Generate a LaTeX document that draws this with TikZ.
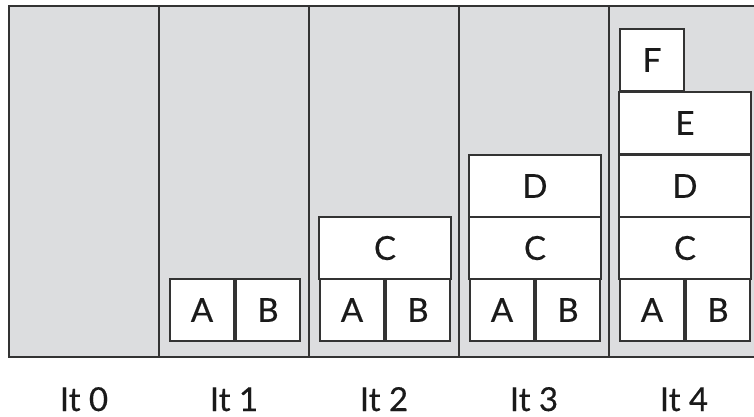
\documentclass[tikz,border=0pt]{standalone}
\usepackage{fontspec}
\setmainfont{Lato}
\definecolor{panelgray}{HTML}{DCDDDF}
\definecolor{linec}{HTML}{333333}
\definecolor{textc}{HTML}{1A1A1A}
\begin{document}
\begin{tikzpicture}[x=1pt,y=-1pt,
  frame/.style={draw=linec, line width=2pt},
  blk/.style={draw=linec, fill=white, line width=1.6pt, minimum width=64pt, minimum height=62pt, inner sep=0pt, font=\fontsize{33}{36}\selectfont\addfontfeatures{FakeBold=0.4}, text=textc},
  wide/.style={blk, minimum width=132pt},
  itlabel/.style={font=\fontsize{33}{36}\selectfont\addfontfeatures{FakeBold=0.4}, text=textc, inner sep=0pt, anchor=base}]
\useasboundingbox (0,0) rectangle (754,417);
\begin{scope}
  \clip (0,0) rectangle (754,417);
  \fill[panelgray] (9,6) rectangle (760,357);
  \draw[frame] (9,6) rectangle (760,357);
  \foreach \x in {159,309,459,609} \draw[frame] (\x,6) -- (\x,357);
\end{scope}
% It 1
\node[blk] (a1) at (202,310) {A};
\node[blk] (b1) at (268,310) {B};
% It 2
\node[blk] (a2) at (352,310) {A};
\node[blk] (b2) at (418,310) {B};
\node[wide] (c2) at (385,248) {C};
% It 3
\node[blk] (a3) at (502,310) {A};
\node[blk] (b3) at (568,310) {B};
\node[wide] (c3) at (535,248) {C};
\node[wide] (d3) at (535,186) {D};
% It 4
\node[blk] (a4) at (652,310) {A};
\node[blk] (b4) at (718,310) {B};
\node[wide] (c4) at (685,248) {C};
\node[wide] (d4) at (685,186) {D};
\node[wide] (e4) at (685,123) {E};
\node[blk] (f4) at (652,60) {F};
% labels
\node[itlabel] (l0) at (84,411) {It 0};
\node[itlabel] (l1) at (234,411) {It 1};
\node[itlabel] (l2) at (384,411) {It 2};
\node[itlabel] (l3) at (534,411) {It 3};
\node[itlabel] (l4) at (684,411) {It 4};
\end{tikzpicture}
\end{document}
